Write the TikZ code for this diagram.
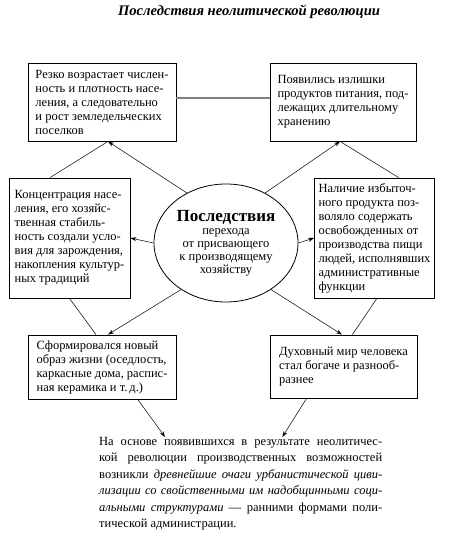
\documentclass[tikz,border=0pt]{standalone}
\usepackage{fontspec}
\setmainfont{Liberation Serif}
\usetikzlibrary{arrows.meta, calc, positioning, shapes.geometric}

\tikzset{
  kasten/.style={draw, line width=0.8pt, rectangle, align=left, inner sep=4pt,
                 font=\fontsize{12.5}{14}\selectfont},
  pfeil/.style={-{Stealth[length=6pt, width=4pt]}, line width=0.5pt},
  linie/.style={line width=0.5pt}
}

\begin{document}
\begin{tikzpicture}[x=1pt, y=-1pt]
  \useasboundingbox (0,0) rectangle (452,540);

  % Titel
  \node[font=\fontsize{14.6}{16}\selectfont\bfseries\itshape] (titel) at (249,12)
    {Последствия неолитической революции};

  % Mitte
  \node[draw, ellipse, line width=0.8pt, minimum width=144pt, minimum height=118pt,
        inner sep=0pt, align=center, font=\fontsize{12.5}{13}\selectfont] (posl) at (226,243)
    {{\fontsize{17}{18}\selectfont\bfseries Последствия}\\перехода\\от присвающего\\к производящему\\хозяйству};

  % Kaesten
  \node[kasten, minimum width=148pt, minimum height=78pt] (rost) at (102,102)
    {Резко возрастает числен-\\ность и плотность насе-\\ления, а следовательно\\и рост земледельческих\\поселков};
  \node[kasten, minimum width=146pt, minimum height=78pt] (izlish) at (343,102)
    {Появились излишки\\продуктов питания, под-\\лежащих длительному\\хранению};
  \node[kasten, minimum width=121pt, minimum height=120pt] (konc) at (69.5,238)
    {Концентрация насе-\\ления, его хозяйс-\\твенная стабиль-\\ность создали усло-\\вия для зарождения,\\накопления культур-\\ных традиций};
  \node[kasten, minimum width=119pt, minimum height=120pt] (nalich) at (374.5,238)
    {Наличие избыточ-\\ного продукта поз-\\воляло содержать\\освобожденных от\\производства пищи\\людей, исполнявших\\административные\\функции};
  \node[kasten, minimum width=148pt, minimum height=64pt] (obraz) at (102,367)
    {Сформировался новый\\образ жизни (оседлость,\\каркасные дома, распис-\\ная керамика и т.\,д.)};
  \node[kasten, minimum width=147pt, minimum height=63pt] (duh) at (343.5,366.5)
    {Духовный мир человека\\стал богаче и разнооб-\\разнее};

  % Schluss
  \node[anchor=north west, inner sep=0pt, align=left,
        font=\fontsize{12.5}{16.5}\selectfont] (itog) at (99,437)
    {\makebox[283pt][s]{На основе появившихся в результате неолитичес-}\\
     \makebox[283pt][s]{кой революции производственных возможностей}\\
     \makebox[283pt][s]{возникли \textit{древнейшие очаги урбанистической циви-}}\\
     \makebox[283pt][s]{\textit{лизации со свойственными им надобщинными соци-}}\\
     \makebox[283pt][s]{\textit{альными структурами} — ранними формами поли-}\\
     тической администрации.};

  % Punkte an den Kanten
  \coordinate (rostin)   at ($(rost.south west)!0.54!(rost.south east)$);
  \coordinate (izlishin) at ($(izlish.south west)!0.48!(izlish.south east)$);
  \coordinate (obrazin)  at ($(obraz.north west)!0.54!(obraz.north east)$);
  \coordinate (obrazin2) at ($(obraz.north west)!0.46!(obraz.north east)$);
  \coordinate (duhin)    at ($(duh.north west)!0.49!(duh.north east)$);
  \coordinate (duhin2)   at ($(duh.north west)!0.56!(duh.north east)$);
  \coordinate (itogl)    at ($(itog.north west)!0.233!(itog.north east)$);
  \coordinate (itogr)    at ($(itog.north west)!0.647!(itog.north east)$);

  % Pfeile
  \draw[pfeil] (posl.west) -- (konc.east);
  \draw[pfeil] (posl.east) -- (nalich.west);
  \draw[pfeil] (posl.128) -- (rostin);
  \draw[pfeil] (posl.52) -- (izlishin);
  \draw[pfeil] (posl.226) -- (obrazin);
  \draw[pfeil] (posl.314) -- (duhin);
  \draw[linie] ($(konc.north west)!0.34!(konc.north east)$) -- (rostin);
  \draw[linie] ($(nalich.north west)!0.70!(nalich.north east)$) -- (izlishin);
  \draw[linie] ($(konc.south west)!0.50!(konc.south east)$) -- (obrazin2);
  \draw[linie] ($(nalich.south west)!0.52!(nalich.south east)$) -- (duhin2);
  \draw[pfeil] ($(obraz.south west)!0.74!(obraz.south east)$) -- (itogl);
  \draw[pfeil] ($(duh.south west)!0.25!(duh.south east)$) -- (itogr);
  \draw[gray, line width=1.2pt] ($(rost.east)+(0,-4)$) -- ($(izlish.west)+(0,-4)$);
\end{tikzpicture}
\end{document}
